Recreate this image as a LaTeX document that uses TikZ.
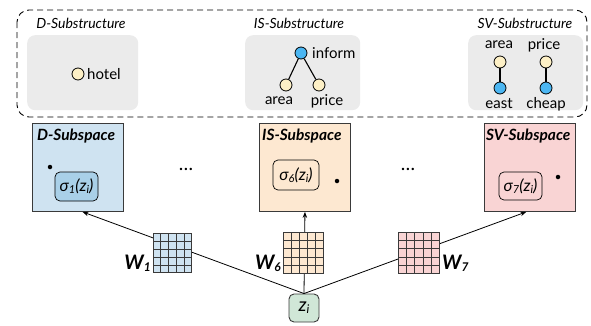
\documentclass[tikz,border=0pt]{standalone}
\usepackage{fontspec}
\setmainfont{Lato}
\usetikzlibrary{calc,arrows.meta}
\definecolor{gbox}{HTML}{EBEBEB}
\definecolor{dblue}{HTML}{CFE3F1}
\definecolor{dblueinner}{HTML}{A9D0E8}
\definecolor{peach}{HTML}{FDE8D1}
\definecolor{pinkc}{HTML}{F9D4D4}
\definecolor{greenc}{HTML}{D0E7D7}
\definecolor{cream}{HTML}{FDF0C6}
\definecolor{skyb}{HTML}{4BB6F2}
\definecolor{edgec}{HTML}{3A3A3A}
\newcommand\smallsub[1]{\raisebox{-0.25ex}{\fontsize{11}{11}\selectfont #1}}
\newcommand\bigsub[1]{\raisebox{-0.2ex}{\fontsize{12}{12}\selectfont #1}}
\tikzset{
  graybox/.style={fill=gbox, rounded corners=8pt, draw=none, anchor=north west},
  subtitle/.style={font=\fontsize{14}{16}\selectfont\itshape, inner sep=0pt},
  spacebox/.style={draw=edgec, line width=0.9pt, anchor=north west, minimum width=91pt, minimum height=88pt, inner sep=0pt},
  sptitle/.style={font=\fontsize{15.5}{17}\selectfont\bfseries\itshape, anchor=west, inner sep=0pt},
  sigbox/.style={draw=black, line width=0.7pt, rounded corners=5pt, inner sep=1pt, font=\fontsize{16.5}{18}\selectfont\itshape},
  snode/.style={circle, draw=black, line width=0.8pt, minimum size=12pt, inner sep=0pt},
  crm/.style={snode, fill=cream},
  blu/.style={snode, fill=skyb},
  stxt/.style={font=\fontsize{15}{17}\selectfont, inner sep=0pt},
  sedge/.style={line width=1.1pt, black},
  mat/.style={draw=edgec, line width=0.9pt, anchor=north west, inner sep=0pt},
  gline/.style={draw=edgec, line width=0.8pt},
  wlab/.style={font=\fontsize{20}{22}\selectfont\bfseries\itshape, inner sep=0pt},
  conn/.style={line width=0.8pt, black},
  arr/.style={conn, -{Stealth[length=6pt,width=4.5pt]}},
  pdot/.style={circle, fill=black, minimum size=4.5pt, inner sep=0pt},
}
\begin{document}
\begin{tikzpicture}[x=1pt,y=-1pt]
\useasboundingbox (0,0) rectangle (591,325);
% dashed outer box
\draw[line width=0.9pt, dash pattern=on 6pt off 4pt, rounded corners=12pt] (17,10) rectangle (587,117);
% gray boxes
\node[graybox, minimum width=111pt, minimum height=75pt] (g1) at (27,35) {};
\node[graybox, minimum width=115pt, minimum height=75pt] (g2) at (245,35) {};
\node[graybox, minimum width=115pt, minimum height=75pt] (g3) at (468,35) {};
% titles
\node[subtitle] (t1) at (81,23) {D-Substructure};
\node[subtitle] (t2) at (299,23) {IS-Substructure};
\node[subtitle] (t3) at (525,23) {SV-Substructure};
% D structure
\node[crm] (hotelc) at (78,74) {};
\node[stxt, anchor=west] (hotelt) at (87,74) {hotel};
% IS structure
\node[blu] (infc) at (301,53) {};
\node[crm] (areac) at (286,85) {};
\node[crm] (pricec) at (319,85) {};
\draw[sedge] (infc) -- (areac);
\draw[sedge] (infc) -- (pricec);
\node[stxt, anchor=west] (inft) at (312,53) {inform};
\node[stxt] (areat) at (279,101) {area};
\node[stxt] (pricet) at (327,101) {price};
% SV structure
\node[stxt] (sva) at (499,45) {area};
\node[stxt] (svp) at (544,45) {price};
\node[crm] (svac) at (500,62) {};
\node[blu] (svec) at (500,88) {};
\node[crm] (svpc) at (546,62) {};
\node[blu] (svcc) at (546,88) {};
\draw[sedge] (svac) -- (svec);
\draw[sedge] (svpc) -- (svcc);
\node[stxt] (sve) at (499,104) {east};
\node[stxt] (svch) at (546,104) {cheap};
% subspaces
\node[spacebox, fill=dblue] (D) at (32,123) {};
\node[spacebox, fill=peach] (IS) at (259,123) {};
\node[spacebox, fill=pinkc] (SV) at (484,123) {};
\node[sptitle] (Dt) at (37,136) {D-Subspace};
\node[sptitle] (ISt) at (262,136) {IS-Subspace};
\node[sptitle] (SVt) at (486,136) {SV-Subspace};
\node[sigbox, fill=dblueinner, minimum width=43pt, minimum height=29pt] (s1) at (76.5,186.5) {σ\smallsub{1}(z\smallsub{i})};
\node[sigbox, fill=peach, minimum width=46pt, minimum height=30pt] (s6) at (296,175) {σ\smallsub{6}(z\smallsub{i})};
\node[sigbox, fill=pinkc, minimum width=43pt, minimum height=28pt] (s7) at (520.5,186) {σ\smallsub{7}(z\smallsub{i})};
\node[pdot] (d1) at (50,167) {};
\node[pdot] (d6) at (337,181) {};
\node[pdot] (d7) at (558,177) {};
\node[font=\fontsize{19}{21}\selectfont] (e1) at (186,169) {…};
\node[font=\fontsize{19}{21}\selectfont] (e2) at (408,169) {…};
% z_i
\node[draw=edgec, line width=0.9pt, fill=greenc, rounded corners=5pt, minimum width=30pt, minimum height=28pt, inner sep=0pt, font=\fontsize{19}{21}\selectfont\itshape] (z) at (304,308) {z\bigsub{i}};
% connectors
\draw[arr] (z.north) -- ($(D.south west)!0.55!(D.south east)$);
\draw[arr] (z.north) -- (IS.south);
\draw[arr] (z.north) -- ($(SV.south west)!0.46!(SV.south east)$);
% matrices
\node[mat, fill=dblue, minimum width=38pt, minimum height=39pt] (W1) at (153,233) {};
\node[mat, fill=peach, minimum width=40pt, minimum height=41pt] (W6) at (283,232) {};
\node[mat, fill=pinkc, minimum width=41pt, minimum height=41pt] (W7) at (398,232) {};
\foreach \m in {W1,W6,W7}{
  \foreach \k in {1,2,3,4}{
    \draw[gline] ($(\m.north west)!{\k/5}!(\m.north east)$) -- ($(\m.south west)!{\k/5}!(\m.south east)$);
    \draw[gline] ($(\m.north west)!{\k/5}!(\m.south west)$) -- ($(\m.north east)!{\k/5}!(\m.south east)$);
  }
  \draw[draw=edgec, line width=0.9pt] (\m.north west) rectangle (\m.south east);
}
\node[wlab, anchor=east] (W1l) at (151,263) {W\bigsub{1}};
\node[wlab, anchor=east] (W6l) at (281,263) {W\bigsub{6}};
\node[wlab, anchor=west] (W7l) at (442,263) {W\bigsub{7}};
\end{tikzpicture}
\end{document}
